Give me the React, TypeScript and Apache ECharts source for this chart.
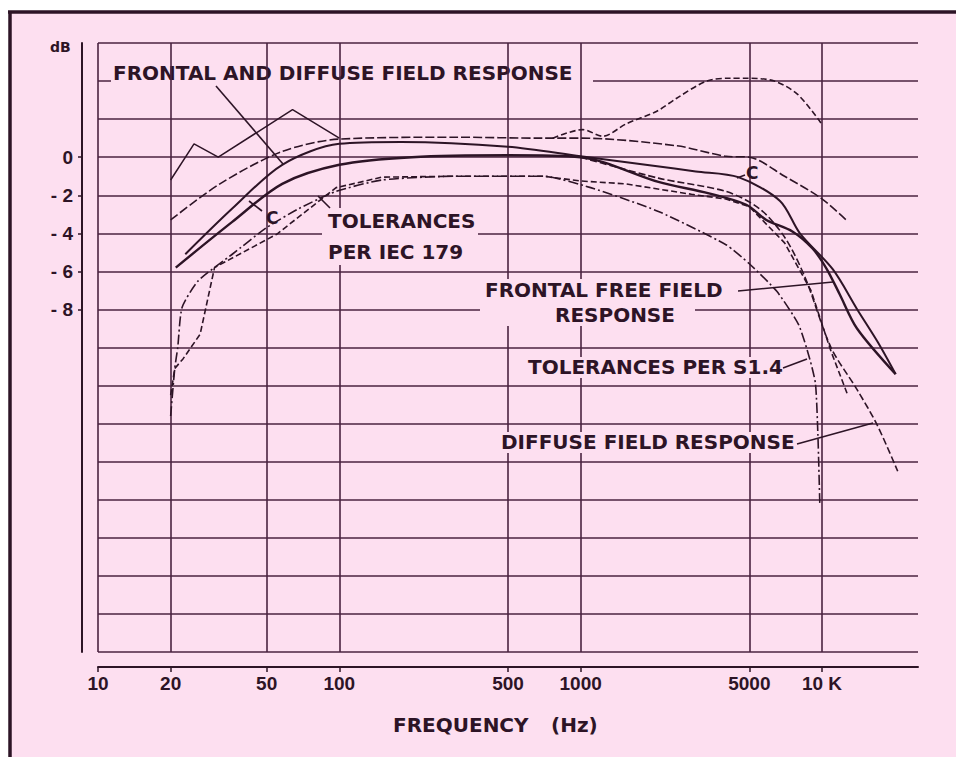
import React, { useEffect, useRef } from 'react';
import * as echarts from 'echarts';

// ---- axis ticks ----
const freqTicks = [10, 20, 50, 100, 500, 1000, 5000, 10000];
const dbTicks = [0, -2, -4, -6, -8];

// ---- curves: [frequency Hz, dB] ----
const iecUpperLow = [[20, -1.2], [25, 0.7], [31.5, 0], [64, 2.5], [100, 1.0]];
const upperTol = [[20, -3.3], [32, -1.4], [58, 0.3], [100, 0.95], [300, 1.05], [700, 1.0], [1000, 1.0], [2500, 0.6], [4000, 0.05], [5000, 0], [7000, -1.0], [9900, -2.15], [12600, -3.3]];
const highBump = [[766, 1.0], [1020, 1.45], [1236, 1.1], [1543, 1.75], [2060, 2.4], [2500, 3.1], [3330, 4.0], [4160, 4.15], [4900, 4.15], [6350, 4.0], [7930, 3.3], [9900, 1.8]];
const cCurve = [[23, -5.1], [36, -2.7], [58, -0.4], [100, 0.7], [180, 0.8], [500, 0.55], [1000, 0.05], [2000, -0.45], [3000, -0.75], [4500, -1.05], [6700, -2.3], [8100, -4.0], [11100, -5.9], [14000, -8.0], [17000, -9.7], [20200, -11.4]];
const frontalFree = [[21, -5.8], [36, -3.4], [58, -1.4], [100, -0.4], [200, 0.0], [500, 0.1], [1000, 0.0], [2100, -1.3], [3400, -1.9], [4860, -2.5], [5880, -3.3], [7540, -3.9], [9140, -4.8], [10440, -5.85], [11840, -7.2], [13970, -9.0], [20200, -11.4]];
const diffuseField = [[1000, 0.0], [2100, -1.1], [4000, -1.8], [5500, -2.7], [7000, -4.2], [8500, -6.3], [10900, -10.0], [13960, -12.2], [16900, -14.05], [20600, -16.5]];
const iecLower = [[20, -12.5], [20.8, -11.1], [22.5, -10.6], [26.5, -9.3], [30.4, -5.8], [55, -4.05], [97, -1.6], [150, -1.05], [300, -1.0], [700, -1.0], [1000, -1.25], [1530, -1.4], [2880, -1.95], [4000, -2.2], [5000, -2.6], [7000, -4.5], [9000, -7.0], [10900, -10.2], [12700, -12.4]];
const s14Lower = [[20, -13.6], [20.8, -11.1], [21.4, -10], [22.3, -7.9], [26, -6.5], [36, -5.1], [50, -3.7], [68, -2.7], [97, -1.8], [150, -1.2], [300, -1.0], [700, -1.0], [1100, -1.6], [2100, -2.85], [4000, -4.6], [5000, -5.6], [6500, -7.05], [8000, -8.8], [8900, -10.6], [9400, -11.9], [9620, -14.6], [9800, -18.3]];

const pink = '#fddff0';
const ink = '#2d1426';
const gridColor = '#4a2340';
const textFont = 'bold 20px "DejaVu Sans"';
const numFamily = '"Liberation Sans", Arial, sans-serif';

function lineSeries(name: string, data: number[][], dash: any, width: number, smooth: number | boolean, extra: any = {}) {
  return {
    type: 'line',
    name,
    data,
    xAxisIndex: 0,
    yAxisIndex: 0,
    symbol: 'none',
    showSymbol: false,
    smooth,
    silent: true,
    z: 3,
    lineStyle: { color: ink, width, type: dash },
    ...extra,
  };
}

function txt(text: string, x: number, y: number, font = textFont, z = 12) {
  return {
    type: 'text', x, y, z, silent: true,
    style: { text, font, fill: ink, align: 'left', verticalAlign: 'middle', textAlign: 'left', textVerticalAlign: 'middle' },
  };
}
function cover(x: number, y: number, w: number, h: number, z = 11) {
  return { type: 'rect', z, silent: true, shape: { x, y, width: w, height: h }, style: { fill: pink } };
}
function leader(x1: number, y1: number, x2: number, y2: number, w = 1.6, z = 12) {
  return { type: 'line', z, silent: true, shape: { x1, y1, x2, y2 }, style: { stroke: ink, lineWidth: w } };
}

export default function App() {
  const ref = useRef<HTMLDivElement>(null);
  useEffect(() => {
    const chart = echarts.init(ref.current!, undefined, { renderer: 'svg' });
    const option: any = {
      animation: false,
      backgroundColor: '#ffffff',
      grid: { left: 98, top: 43, width: 820, height: 609, containLabel: false },
      xAxis: [
        {
          type: 'log', logBase: 10, min: 10, max: 25000, position: 'bottom',
          axisLine: { show: false, onZero: false }, axisTick: { show: false }, axisLabel: { show: false },
          splitLine: { show: false }, minorTick: { show: false }, minorSplitLine: { show: false },
        },
        {
          type: 'log', logBase: 10, min: 10, max: 25000, position: 'bottom', offset: 15,
          axisLine: { show: true, onZero: false, lineStyle: { color: ink, width: 2 } },
          axisTick: { show: true, customValues: freqTicks, length: 5, lineStyle: { color: ink, width: 1.5 } },
          axisLabel: {
            show: true, customValues: freqTicks, margin: 7,
            formatter: (v: number) => (v >= 10000 ? `${Math.round(v / 1000)} K` : String(Math.round(v))),
            fontFamily: numFamily, fontWeight: 'bold', fontSize: 19, color: ink,
          },
          splitLine: { show: false },
        },
      ],
      yAxis: [
        {
          type: 'value', min: -26, max: 6, interval: 2,
          axisLine: { show: false, onZero: false }, axisTick: { show: false }, axisLabel: { show: false },
          splitLine: { show: true, lineStyle: { color: gridColor, width: 1.6 } },
        },
        {
          type: 'value', min: -26, max: 6, interval: 2, position: 'left', offset: 16,
          axisLine: { show: true, onZero: false, lineStyle: { color: ink, width: 2 } },
          axisTick: { show: true, customValues: dbTicks, length: 4, lineStyle: { color: ink, width: 1.5 } },
          axisLabel: {
            show: true, customValues: dbTicks, margin: 9,
            formatter: (v: number) => (v === 0 ? '0' : `- ${Math.abs(v)}`),
            fontFamily: numFamily, fontWeight: 'bold', fontSize: 19, color: ink,
          },
          splitLine: { show: false },
        },
      ],
      series: [
        lineSeries('IEC 179 upper (low)', iecUpperLow, 'solid', 1.5, false, {
          markLine: {
            silent: true, symbol: ['none', 'none'], label: { show: false }, z: 2,
            lineStyle: { color: gridColor, width: 1.6, type: 'solid' },
            data: freqTicks.map((f) => ({ xAxis: f })),
          },
        }),
        lineSeries('Upper tolerance', upperTol, [9, 3], 1.6, 0.3),
        lineSeries('Upper tolerance (high)', highBump, [6, 3], 1.6, 0.3),
        lineSeries('C', cCurve, 'solid', 2, 0.3),
        lineSeries('Frontal free field response', frontalFree, 'solid', 2.4, 0.3),
        lineSeries('Diffuse field response', diffuseField, [7, 3], 1.6, 0.3),
        lineSeries('Tolerances per IEC 179 (lower)', iecLower, [6, 3], 1.6, false),
        lineSeries('Tolerances per S1.4 (lower)', s14Lower, [10, 3, 2, 3], 1.6, 0.2),
      ],
      graphic: [
        { type: 'rect', z: -10, silent: true, shape: { x: 10, y: 11, width: 1200, height: 1000 }, style: { fill: pink } },
        leader(8, 12, 956, 12, 3.5, -9),
        leader(10, 11, 10, 757, 3.5, -9),
        cover(111, 63, 482, 22, 1),
        txt('FRONTAL AND DIFFUSE FIELD RESPONSE', 113, 73, textFont, 1),
        leader(216, 86, 283, 164),
        cover(322, 208, 156, 57),
        txt('TOLERANCES', 328, 221),
        txt('PER IEC 179', 328, 252),
        leader(318, 196, 330, 208),
        txt('C', 266, 218, 'bold 17px "DejaVu Sans"'),
        leader(249, 201, 262, 211),
        txt('C', 746, 173, 'bold 17px "DejaVu Sans"'),
        leader(737, 178, 745, 175),
        cover(480, 279, 262, 21),
        cover(480, 300, 215, 26),
        txt('FRONTAL FREE FIELD', 485, 290),
        txt('RESPONSE', 555, 315),
        leader(738, 291, 833, 282),
        cover(524, 357, 257, 21),
        txt('TOLERANCES PER S1.4', 528, 367),
        leader(783, 368, 807, 359),
        cover(497, 432, 296, 21),
        txt('DIFFUSE FIELD RESPONSE', 501, 442),
        leader(797, 444, 873, 423),
        txt('dB', 50, 47, 'bold 14px "DejaVu Sans"'),
        txt('FREQUENCY', 393, 725),
        txt('(Hz)', 551, 725),
      ],
    };
    chart.setOption(option);
    return () => chart.dispose();
  }, []);
  return <div ref={ref} style={{ position: 'absolute', left: 0, top: 0, width: 956, height: 757 }} />;
}
